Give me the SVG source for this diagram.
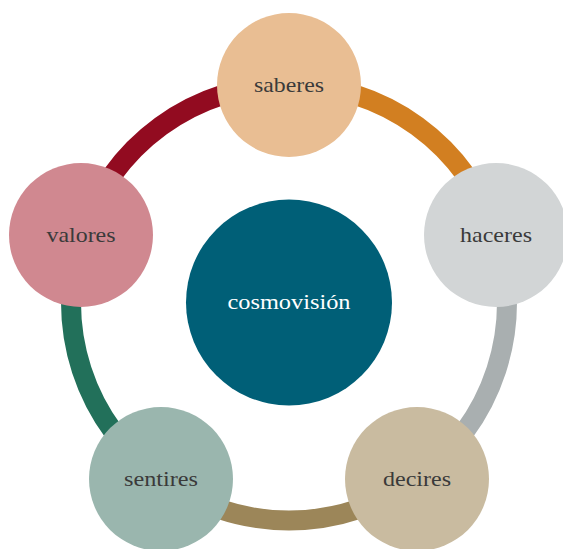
<svg xmlns="http://www.w3.org/2000/svg" width="563" height="549" viewBox="0 0 563 549">
  <style>
    .ring { fill: none; stroke-width: 20; }
    .lbl { font-family: "Liberation Serif", "DejaVu Serif", serif; font-size: 22px; fill: #3a3a3a; text-anchor: middle; }
    .core { font-family: "Liberation Serif", "DejaVu Serif", serif; font-size: 22px; fill: #ffffff; text-anchor: middle; }
  </style>
  <rect width="563" height="549" fill="#ffffff"/>

  <!-- ring segments between neighbouring nodes (radius 218 around the centre) -->
  <g id="connectors">
    <path class="ring" stroke="#d27f21" d="M289,84.5 A218,218 0 0 1 496.33,235.13"/>
    <path class="ring" stroke="#a9afb0" d="M496.33,235.13 A218,218 0 0 1 417.14,478.87"/>
    <path class="ring" stroke="#9c8659" d="M417.14,478.87 A218,218 0 0 1 160.86,478.87"/>
    <path class="ring" stroke="#22705a" d="M160.86,478.87 A218,218 0 0 1 81.67,235.13"/>
    <path class="ring" stroke="#920b20" d="M81.67,235.13 A218,218 0 0 1 289,84.5"/>
  </g>

  <g id="cosmovision">
    <circle cx="289" cy="302.5" r="103" fill="#005f77"/>
    <text class="core" x="289" y="309" textLength="123" lengthAdjust="spacingAndGlyphs">cosmovisión</text>
  </g>

  <g id="saberes">
    <circle cx="289" cy="85" r="72" fill="#e9be93"/>
    <text class="lbl" x="289" y="92" textLength="70" lengthAdjust="spacingAndGlyphs">saberes</text>
  </g>

  <g id="haceres">
    <circle cx="496" cy="235" r="72" fill="#d2d5d6"/>
    <text class="lbl" x="496" y="242" textLength="72" lengthAdjust="spacingAndGlyphs">haceres</text>
  </g>

  <g id="decires">
    <circle cx="417" cy="479" r="72" fill="#c9bba0"/>
    <text class="lbl" x="417" y="486" textLength="68" lengthAdjust="spacingAndGlyphs">decires</text>
  </g>

  <g id="sentires">
    <circle cx="161" cy="479" r="72" fill="#9ab6ae"/>
    <text class="lbl" x="161" y="486" textLength="74" lengthAdjust="spacingAndGlyphs">sentires</text>
  </g>

  <g id="valores">
    <circle cx="81" cy="235" r="72" fill="#d08890"/>
    <text class="lbl" x="81" y="242" textLength="69" lengthAdjust="spacingAndGlyphs">valores</text>
  </g>
</svg>
